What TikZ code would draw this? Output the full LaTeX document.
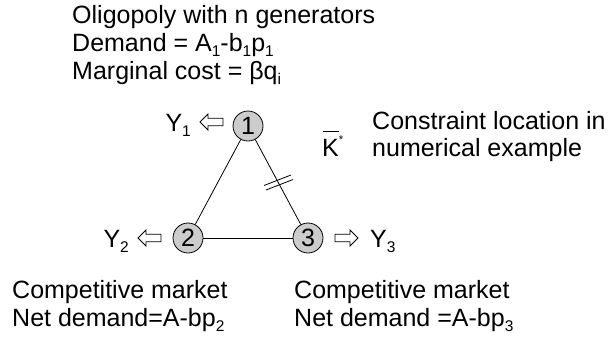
\documentclass[tikz,border=0pt]{standalone}
\usepackage{fontspec}
\setmainfont{Liberation Sans}
\newcommand\subt[1]{\raisebox{-0.2em}{\fontsize{0.62em}{0.62em}\selectfont #1}}
\newcommand\supt[1]{\raisebox{0.5em}{\fontsize{0.45em}{0.45em}\selectfont #1}}
\begin{document}
\begin{tikzpicture}[x=1pt,y=-1pt,
  txt/.style={inner sep=0pt, font=\fontsize{25}{25}\selectfont},
  gnode/.style={circle, draw=black, line width=0.8pt, fill=black!20, minimum size=30pt, inner sep=0pt, font=\fontsize{25}{25}\selectfont},
  edge/.style={line width=0.8pt, black},
  tick/.style={line width=0.8pt, black},
  hollow/.style={draw=black, line width=0.8pt, fill=white, line join=miter}]
\useasboundingbox (0,0) rectangle (612,338);
% title
\node[txt, anchor=base west] (t1) at (72,23) {Oligopoly with n generators};
\node[txt, anchor=base west] (t2) at (72,51) {Demand = A\subt{1}-b\subt{1}p\subt{1}};
\node[txt, anchor=base west] (t3) at (72,79) {Marginal cost = βq\subt{i}};
% nodes
\node[gnode] (n1) at (248,126) {1};
\node[gnode] (n2) at (188,238) {2};
\node[gnode] (n3) at (308,238) {3};
\draw[edge] (n1) -- (n2);
\draw[edge] (n1) -- (n3);
\draw[edge] (n2) -- (n3);
% double tick on 1--3
\path (n1) -- (n3) coordinate[pos=0.5] (mid);
\draw[tick] ([shift={(-14,3.5)}]mid) -- ([shift={(13,-7)}]mid);
\draw[tick] ([shift={(-12,8)}]mid) -- ([shift={(15,-2.5)}]mid);
% hollow arrows
\coordinate (a1) at (200,122);
\coordinate (a2) at (138,238);
\coordinate (a3) at (358,238);
\draw[hollow] (a1) -- ++(8,-8) -- ++(0,4.2) -- ++(15,0) -- ++(0,7.6) -- ++(-15,0) -- ++(0,4.2) -- cycle;
\draw[hollow] (a2) -- ++(8,-8) -- ++(0,4.2) -- ++(15,0) -- ++(0,7.6) -- ++(-15,0) -- ++(0,4.2) -- cycle;
\draw[hollow] (a3) -- ++(-8,-8) -- ++(0,4.2) -- ++(-15,0) -- ++(0,7.6) -- ++(15,0) -- ++(0,4.2) -- cycle;
% Y labels
\node[txt, anchor=base east] (y1) at (191,131) {Y\subt{1}};
\node[txt, anchor=base east] (y2) at (129,247) {Y\subt{2}};
\node[txt, anchor=base west] (y3) at (370,247) {Y\subt{3}};
% K*
\node[txt, anchor=base west] (k) at (322,156) {K\supt{*}};
\draw[line width=0.8pt] ([shift={(1,-25)}]k.base west) -- ([shift={(17,-25)}]k.base west);
% constraint text
\node[txt, anchor=base west] (c1) at (372,129) {Constraint location in};
\node[txt, anchor=base west] (c2) at (372,156) {numerical example};
% bottom texts
\node[txt, anchor=base west] (b1) at (12,298) {Competitive market};
\node[txt, anchor=base west] (b2) at (12,326) {Net demand=A-bp\subt{2}};
\node[txt, anchor=base west] (b3) at (294,298) {Competitive market};
\node[txt, anchor=base west] (b4) at (294,326) {Net demand =A-bp\subt{3}};
\end{tikzpicture}
\end{document}
